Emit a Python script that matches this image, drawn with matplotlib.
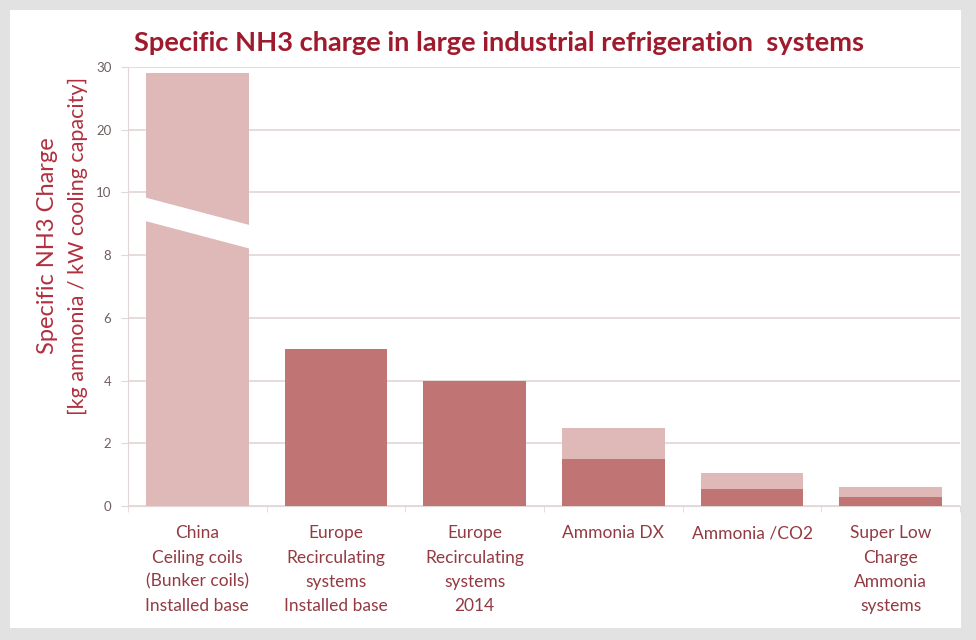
import numpy as np
import matplotlib.pyplot as plt
from matplotlib.patches import Rectangle, Polygon

# Specific ammonia charge per system type (kg NH3 / kW cooling capacity)
categories = [
    "China\nCeiling coils\n(Bunker coils)\nInstalled base",
    "Europe\nRecirculating\nsystems\nInstalled base",
    "Europe\nRecirculating\nsystems\n2014",
    "Ammonia DX",
    "Ammonia /CO2",
    "Super Low\nCharge\nAmmonia\nsystems",
]
low_charge = [0, 5, 4, 1.5, 0.55, 0.3]      # darker part of each bar
high_charge = [29, 5, 4, 2.5, 1.05, 0.6]    # upper end of the range
ytick_values = [0, 2, 4, 6, 8, 10, 20, 30]

DARK = "#c07474"
LIGHT = "#dfb8b8"
TITLE_RED = "#9e1a2c"
LABEL_RED = "#b0303e"
CAT_RED = "#933a42"
TICK_GREY = "#6f6060"
GRID = "#e3d6d6"

plt.rcParams['font.family'] = ['Lato', 'DejaVu Sans']


def fwd(y):
    y = np.asarray(y, dtype=float)
    return np.where(y <= 10, y, 10 + (y - 10) / 5.0)


def inv(t):
    t = np.asarray(t, dtype=float)
    return np.where(t <= 10, t, 10 + (t - 10) * 5.0)


fig = plt.figure(figsize=(9.76, 6.40), dpi=100, facecolor="#e2e2e2")
# white slide panel behind everything
fig.patches.append(Rectangle((10 / 976, 1 - 628 / 640), 951 / 976, 618 / 640,
                             transform=fig.transFigure, facecolor="white",
                             edgecolor="none", zorder=-5))

ax = fig.add_axes([128 / 976, 1 - 506 / 640, 832 / 976, 439 / 640])
ax.set_facecolor("none")
ax.set_yscale("function", functions=(fwd, inv))
ax.set_ylim(0, 30)
ax.set_xlim(-0.5, len(categories) - 0.5)

x = np.arange(len(categories))
width = 0.74
ax.bar(x, high_charge, width, color=LIGHT, zorder=2)
ax.bar(x, low_charge, width, color=DARK, zorder=3)

# axis break cut through the tall China bar
ax.add_patch(Polygon([(-0.385, 9.1), (0.385, 8.2), (0.385, 8.95), (-0.385, 9.85)],
                     closed=True, facecolor="white", edgecolor="none", zorder=4))

ax.set_yticks(ytick_values)
ax.set_yticklabels([str(v) for v in ytick_values], fontsize=9.5, color=TICK_GREY)
ax.yaxis.grid(True, color=GRID, linewidth=1.2, zorder=1)
ax.tick_params(axis="y", length=5, color=GRID, pad=7)

ax.set_xticks(x)
ax.set_xticklabels(categories, fontsize=12.5, color=CAT_RED, linespacing=1.62,
                   va="top")
ax.set_xticks(np.arange(len(categories) + 1) - 0.5, minor=True)
ax.tick_params(axis="x", which="major", length=0, pad=14)
ax.tick_params(axis="x", which="minor", length=4, color=GRID)

for side in ["top", "right"]:
    ax.spines[side].set_visible(False)
ax.spines["left"].set_color(GRID)
ax.spines["bottom"].set_color(GRID)

fig.text(0.511, 0.933, "Specific NH3 charge in large industrial refrigeration  systems",
         ha="center", va="center", fontsize=19.6, fontweight="bold", color=TITLE_RED)
fig.text(48 / 976, 1 - 246 / 640, "Specific NH3 Charge", rotation=90,
         ha="center", va="center", fontsize=17, color=LABEL_RED)
fig.text(78 / 976, 1 - 246 / 640, "[kg ammonia / kW cooling capacity]", rotation=90,
         ha="center", va="center", fontsize=15.5, color=LABEL_RED)

fig.savefig("out.png", dpi=100, facecolor=fig.get_facecolor())
